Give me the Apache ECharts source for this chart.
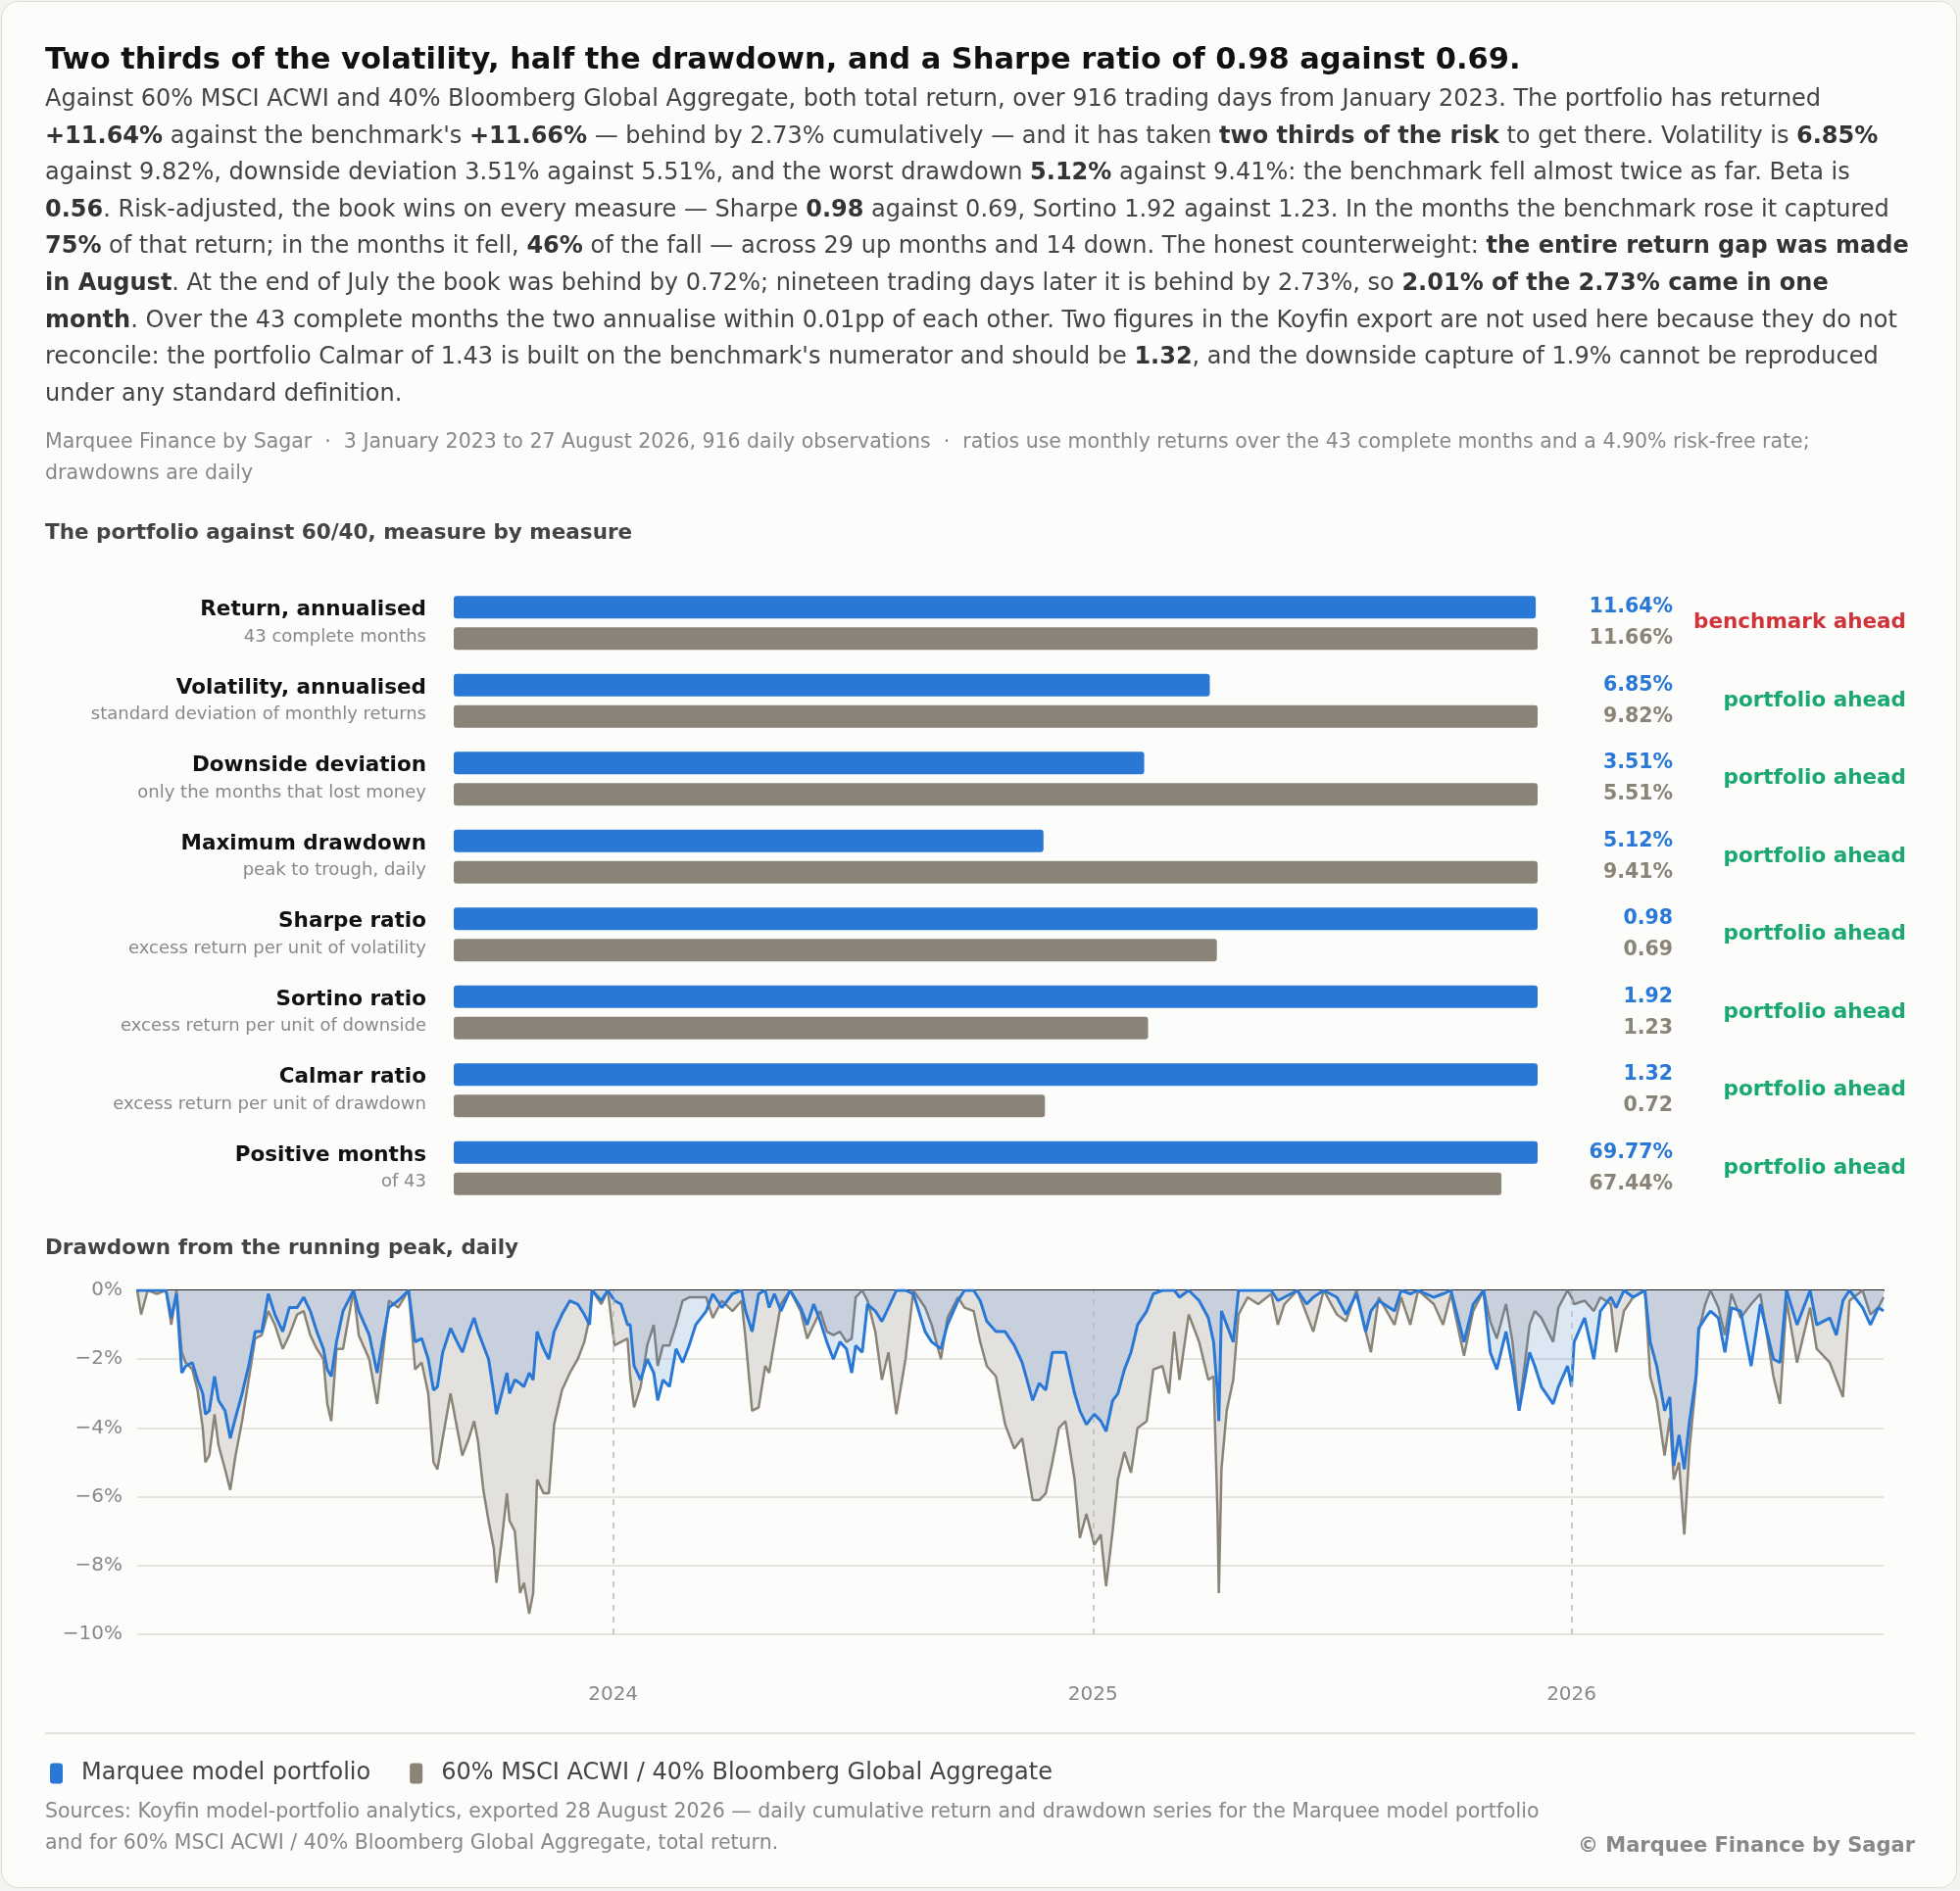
<!DOCTYPE html>
<html lang="en">
<head>
<meta charset="UTF-8">
<title>Portfolio against 60/40</title>
<style>
  html, body { margin: 0; padding: 0; background: #f3f3f1; }
  body { width: 2000px; height: 1930px; position: relative; font-family: "DejaVu Sans", sans-serif; }
  .card { position: absolute; left: 1px; top: 1px; width: 1996px; height: 1926px; background: #fcfcfa;
          border: 1.5px solid #dcdcd8; border-radius: 18px; box-sizing: border-box; }
  #chart { position: absolute; left: 0; top: 0; width: 2000px; height: 1930px; }
  .txt { position: absolute; left: 46px; }
  h1 { margin: 0; font-size: 30.5px; color: #111; font-weight: bold; top: 42px; white-space: nowrap; }
  .lede { top: 82px; width: 1912px; font-size: 24px; line-height: 37.6px; color: #444; }
  .lede b { color: #333; }
  .meta { top: 434px; width: 1900px; font-size: 20.5px; line-height: 32px; color: #888; }
  .sect { font-size: 21.5px; font-weight: bold; color: #444; }
  .rule { position: absolute; left: 46px; width: 1908px; top: 1768px; height: 2px; background: #e2e1dc; }
  .src { top: 1832px; width: 1560px; font-size: 20.5px; line-height: 32px; color: #888; }
  .copy { position: absolute; right: 46px; top: 1871px; font-size: 21px; font-weight: bold; color: #888; }
</style>
</head>
<body>
<div class="card"></div>
<div id="chart"></div>
<h1 class="txt">Two thirds of the volatility, half the drawdown, and a Sharpe ratio of 0.98 against 0.69.</h1>
<div class="txt lede">Against 60% MSCI ACWI and 40% Bloomberg Global Aggregate, both total return, over 916 trading days from January 2023. The portfolio has returned <b>+11.64%</b> against the benchmark's <b>+11.66%</b> — behind by 2.73% cumulatively — and it has taken <b>two thirds of the risk</b> to get there. Volatility is <b>6.85%</b> against 9.82%, downside deviation 3.51% against 5.51%, and the worst drawdown <b>5.12%</b> against 9.41%: the benchmark fell almost twice as far. Beta is <b>0.56</b>. Risk-adjusted, the book wins on every measure — Sharpe <b>0.98</b> against 0.69, Sortino 1.92 against 1.23. In the months the benchmark rose it captured <b>75%</b> of that return; in the months it fell, <b>46%</b> of the fall — across 29 up months and 14 down. The honest counterweight: <b>the entire return gap was made in August</b>. At the end of July the book was behind by 0.72%; nineteen trading days later it is behind by 2.73%, so <b>2.01% of the 2.73% came in one month</b>. Over the 43 complete months the two annualise within 0.01pp of each other. Two figures in the Koyfin export are not used here because they do not reconcile: the portfolio Calmar of 1.43 is built on the benchmark's numerator and should be <b>1.32</b>, and the downside capture of 1.9% cannot be reproduced under any standard definition.</div>
<div class="txt meta">Marquee Finance by Sagar &nbsp;·&nbsp; 3 January 2023 to 27 August 2026, 916 daily observations &nbsp;·&nbsp; ratios use monthly returns over the 43 complete months and a 4.90% risk-free rate; drawdowns are daily</div>
<div class="txt sect" style="top:530px">The portfolio against 60/40, measure by measure</div>
<div class="txt sect" style="top:1260px">Drawdown from the running peak, daily</div>
<div class="rule"></div>
<div class="txt src">Sources: Koyfin model-portfolio analytics, exported 28 August 2026 — daily cumulative return and drawdown series for the Marquee model portfolio and for 60% MSCI ACWI / 40% Bloomberg Global Aggregate, total return.</div>
<div class="copy">© Marquee Finance by Sagar</div>

<script src="https://cdn.jsdelivr.net/npm/echarts@6.0.0/dist/echarts.min.js"></script>
<script>
// measures
var measures = ['Return, annualised', 'Volatility, annualised', 'Downside deviation', 'Maximum drawdown',
                'Sharpe ratio', 'Sortino ratio', 'Calmar ratio', 'Positive months']
var measureNotes = ['43 complete months', 'standard deviation of monthly returns', 'only the months that lost money',
                    'peak to trough, daily', 'excess return per unit of volatility', 'excess return per unit of downside',
                    'excess return per unit of drawdown', 'of 43']
var portfolioVals = [11.64, 6.85, 3.51, 5.12, 0.98, 1.92, 1.32, 69.77]
var benchmarkVals = [11.66, 9.82, 5.51, 9.41, 0.69, 1.23, 0.72, 67.44]
var isPercent = [true, true, true, true, false, false, false, true]
var verdicts = ['benchmark ahead', 'portfolio ahead', 'portfolio ahead', 'portfolio ahead',
                'portfolio ahead', 'portfolio ahead', 'portfolio ahead', 'portfolio ahead']

// drawdown: calendar days after 3 Jan 2023, % below running peak
var ddDays = [0,2.5,7.5,15,22,26,30,34,37,42,46,50,52,55,59,62,67,71,75,80,85,90,95,100,105,111,116,122,127,132,137,142,145,148,152,157,165,169,177,183,187,192,199,207,212,217,222,226,229,233,239,244,248,253,257,260,264,268,272,274,278,282,284,288,292,295,299,302,305,310,314,318,324,330,336,341,345,347,354,359,364,369,374,376,379,384,389,394,397,401,406,411,416,421,426,434,439,446,454,461,464,469,474,479,482,486,491,498,506,511,516,521,526,531,536,541,545,548,553,557,563,568,573,579,586,592,601,606,613,618,626,631,638,643,648,655,662,669,675,683,688,693,698,703,708,715,719,724,730,735,739,744,748,753,758,763,770,775,782,787,791,795,802,810,817,821,824,825,827,831,836,840,847,855,865,870,875,885,892,897,905,915,922,930,937,941,947,959,964,971,977,989,996,1002,1012,1019,1027,1032,1037,1044,1049,1054,1062,1066,1071,1080,1084,1091,1094,1096,1104,1111,1116,1124,1128,1134,1141,1150,1154,1159,1165,1169,1172,1176,1180,1184,1189,1191,1196,1200,1206,1211,1216,1223,1231,1238,1248,1253,1258,1266,1276,1281,1291,1296,1301,1306,1316,1322,1328,1332]
var ddPortfolio = [0,0,0,0,0,-0.8,-0.1,-2.4,-2.2,-2.1,-2.6,-3.0,-3.6,-3.5,-2.5,-3.2,-3.5,-4.3,-3.7,-3.0,-2.2,-1.2,-1.2,-0.1,-0.7,-1.2,-0.5,-0.5,-0.2,-0.6,-1.2,-1.7,-2.3,-2.5,-1.5,-0.6,0,-0.6,-1.3,-2.4,-1.5,-0.5,-0.3,0,-1.5,-1.4,-2.0,-2.9,-2.8,-1.8,-1.1,-1.5,-1.8,-1.2,-0.8,-1.2,-1.6,-2.0,-3.0,-3.6,-3.0,-2.4,-3.0,-2.6,-2.7,-2.8,-2.4,-2.6,-1.2,-1.7,-2.0,-1.2,-0.7,-0.3,-0.4,-0.7,-1.0,0,-0.3,0,-0.3,-0.4,-1.0,-1.0,-2.2,-2.6,-2.0,-2.4,-3.2,-2.6,-2.8,-1.7,-2.1,-1.6,-1.0,-0.6,-0.1,-0.5,-0.1,0,-0.6,-1.2,-0.1,0,-0.5,-0.1,-0.6,0,-0.5,-1.0,-0.4,-0.9,-1.5,-2.0,-1.5,-1.7,-2.4,-1.6,-1.8,-0.4,-0.6,-0.9,-0.5,0,0,-0.1,-1.2,-1.5,-1.7,-1.0,-0.3,0,0,-0.3,-0.9,-1.2,-1.2,-1.6,-2.1,-3.2,-2.7,-2.9,-1.8,-1.8,-1.8,-3.0,-3.5,-3.9,-3.6,-3.8,-4.1,-3.2,-3.0,-2.3,-1.8,-1.0,-0.6,-0.1,0,0,0,-0.2,0,-0.3,-0.8,-1.5,-3.0,-3.8,-0.6,-1.0,-1.5,0,0,0,0,-0.3,-0.2,0,-0.4,-0.2,0,-0.2,-0.7,-0.1,-1.2,-0.6,-0.3,-0.6,0,-0.1,0,-0.2,-0.1,0,-1.5,-0.4,0,-1.8,-2.3,-1.2,-2.2,-3.5,-1.8,-2.2,-2.8,-3.3,-2.8,-2.2,-2.8,-1.5,-0.8,-2.0,-0.6,-0.2,-0.5,0,-0.2,0,-1.5,-2.2,-3.5,-3.1,-5.1,-4.2,-5.2,-3.8,-2.5,-1.1,-0.8,-0.6,-0.8,-1.8,-0.5,-0.6,-2.2,-0.4,-2.0,-2.1,0,-1.0,0,-1.0,-0.8,-1.3,-0.3,0,-0.5,-1.0,-0.5,-0.6]
var ddBenchmark = [0,-0.7,0,-0.1,0,-1.0,0,-1.8,-2.1,-2.3,-2.9,-4.0,-5.0,-4.8,-3.6,-4.5,-5.2,-5.8,-4.8,-3.8,-2.6,-1.4,-1.3,-0.6,-1.0,-1.7,-1.3,-0.7,-0.6,-1.3,-1.7,-2.0,-3.3,-3.8,-1.7,-1.7,0,-1.3,-2.0,-3.3,-2.0,-0.3,-0.5,0,-2.3,-2.1,-3.0,-5.0,-5.2,-4.3,-3.0,-4.0,-4.8,-4.3,-3.8,-4.4,-5.8,-6.7,-7.5,-8.5,-7.3,-5.9,-6.7,-7.0,-8.8,-8.5,-9.4,-8.8,-5.5,-5.9,-5.9,-3.9,-2.9,-2.4,-2.0,-1.5,-0.8,0,-0.4,0,-1.6,-1.5,-1.4,-2.5,-3.4,-2.8,-1.6,-1.0,-2.2,-1.6,-1.6,-1.0,-0.3,-0.2,-0.2,-0.2,-0.8,-0.3,-0.6,-0.3,-1.4,-3.5,-3.4,-2.2,-2.4,-1.5,-0.4,0,-0.6,-1.4,-1.0,-0.6,-1.2,-1.3,-1.2,-1.5,-1.4,-0.2,0,-0.3,-1.2,-2.6,-1.8,-3.6,-2.0,0,-0.5,-1.0,-2.0,-0.8,-0.2,-0.5,-0.6,-1.5,-2.2,-2.5,-3.9,-4.6,-4.3,-6.1,-6.1,-5.9,-5.0,-4.0,-3.8,-5.5,-7.2,-6.5,-7.4,-7.1,-8.6,-7.0,-5.5,-4.7,-5.3,-4.0,-3.8,-2.3,-2.2,-3.0,-1.2,-2.6,-0.7,-1.5,-2.6,-2.5,-6.5,-8.8,-5.2,-3.5,-2.6,-0.7,-0.2,-0.4,-0.1,-1.0,-0.4,0,-0.7,-1.2,0,-0.7,-0.9,0,-1.2,-1.8,-0.2,-1.0,-0.2,-1.0,0,-0.4,-1.0,-0.1,-1.9,-0.6,0,-0.9,-1.4,-0.4,-1.5,-3.5,-1.0,-0.6,-0.8,-1.5,-0.5,0,-0.2,-0.4,-0.3,-0.6,-0.2,-0.4,-1.8,-0.6,-0.2,0,-2.5,-3.2,-4.8,-3.7,-5.5,-5.0,-7.1,-4.6,-2.6,-1.2,-0.4,0,-0.5,-1.3,-0.1,-0.8,-0.4,-0.1,-2.5,-3.3,-0.3,-2.1,-0.5,-1.7,-2.1,-2.6,-3.1,-0.3,0,-0.7,-0.5,-0.2]
var yearTicks = ['2024-01-01', '2025-01-01', '2026-01-01']

var BLUE = '#2a78d6', GREY = '#8a8478'
var start = Date.UTC(2023, 0, 3)
var toTime = function (d) { return start + Math.round(d) * 86400000 }
var pfLine = ddDays.map(function (d, i) { return [toTime(d), ddPortfolio[i]] })
var bmLine = ddDays.map(function (d, i) { return [toTime(d), ddBenchmark[i]] })

// each measure scaled so the larger of the pair fills the row
var pfShare = portfolioVals.map(function (v, i) { return v / Math.max(v, benchmarkVals[i]) })
var bmShare = benchmarkVals.map(function (v, i) { return v / Math.max(v, portfolioVals[i]) })
var fmt = function (v, i) { return isPercent[i] ? v.toFixed(2) + '%' : v.toFixed(2) }

var chart = echarts.init(document.getElementById('chart'))
var option = {
  animation: false,
  textStyle: { fontFamily: 'DejaVu Sans' },
  grid: [
    { left: 463, right: 431, top: 596, height: 636 },
    { left: 140, right: 78, top: 1317, height: 351 }
  ],
  legend: {
    left: 46, top: 1793, itemWidth: 13, itemHeight: 21, icon: 'roundRect', itemGap: 40,
    textStyle: { fontSize: 24, color: '#444', padding: [0, 0, 0, 14] },
    data: ['Marquee model portfolio', '60% MSCI ACWI / 40% Bloomberg Global Aggregate']
  },
  xAxis: [
    { gridIndex: 0, type: 'value', min: 0, max: 1, show: false },
    { gridIndex: 1, type: 'time', position: 'top', min: start, max: toTime(1332),
      axisLine: { show: true, lineStyle: { color: '#222', width: 2 } },
      axisTick: { show: false }, axisLabel: { show: false }, splitLine: { show: false } },
    { gridIndex: 1, type: 'time', position: 'bottom', min: start, max: toTime(1332), splitNumber: 3,
      axisLine: { show: false }, axisTick: { show: false },
      axisLabel: { fontSize: 20, color: '#888', margin: 52,
        formatter: function (v) { var d = new Date(v); return (d.getUTCMonth() === 0 && d.getUTCDate() === 1) ? String(d.getUTCFullYear()) : '' } },
      splitLine: { show: false } }
  ],
  yAxis: [
    { gridIndex: 0, type: 'category', inverse: true, data: measures,
      axisLine: { show: false }, axisTick: { show: false },
      axisLabel: { margin: 28, align: 'right',
        formatter: function (v, i) { return '{n|' + v + '}\n{s|' + measureNotes[i] + '}' },
        rich: { n: { fontSize: 21.5, fontWeight: 'bold', color: '#111', lineHeight: 29, align: 'right' },
                s: { fontSize: 18, color: '#888', lineHeight: 26, align: 'right' } } } },
    { gridIndex: 0, type: 'category', inverse: true, position: 'right', data: measures,
      axisLine: { show: false }, axisTick: { show: false },
      axisLabel: { margin: 138, align: 'right',
        formatter: function (v, i) { return '{p|' + fmt(portfolioVals[i], i) + '}\n{b|' + fmt(benchmarkVals[i], i) + '}' },
        rich: { p: { fontSize: 20.5, fontWeight: 'bold', color: BLUE, lineHeight: 32, align: 'right' },
                b: { fontSize: 20.5, fontWeight: 'bold', color: GREY, lineHeight: 32, align: 'right' } } } },
    { gridIndex: 0, type: 'category', inverse: true, position: 'right', data: measures,
      axisLine: { show: false }, axisTick: { show: false },
      axisLabel: { margin: 376, align: 'right', fontSize: 21.5, fontWeight: 'bold',
        formatter: function (v, i) { return verdicts[i] },
        color: function (v, i) { return verdicts[i].indexOf('benchmark') === 0 ? '#d0333a' : '#1aa871' } } },
    { gridIndex: 1, type: 'value', min: -10, max: 0, interval: 2,
      axisLine: { show: false }, axisTick: { show: false },
      axisLabel: { fontSize: 20, color: '#888', margin: 15,
        formatter: function (v) { return v === 0 ? '0%' : '\u2212' + Math.abs(v) + '%' } },
      splitLine: { lineStyle: { color: '#dddcd4', width: 1.5 } } }
  ],
  series: [
    { name: 'Marquee model portfolio', type: 'bar', xAxisIndex: 0, yAxisIndex: 0, data: pfShare,
      barWidth: 23, barGap: '40%', itemStyle: { color: BLUE, borderRadius: 3 } },
    { name: '60% MSCI ACWI / 40% Bloomberg Global Aggregate', type: 'bar', xAxisIndex: 0, yAxisIndex: 0, data: bmShare,
      barWidth: 23, barGap: '40%', itemStyle: { color: GREY, borderRadius: 3 } },
    { name: '60% MSCI ACWI / 40% Bloomberg Global Aggregate', type: 'line', xAxisIndex: 1, yAxisIndex: 3, data: bmLine,
      symbol: 'none', lineStyle: { color: GREY, width: 2.5 }, itemStyle: { color: GREY },
      areaStyle: { color: '#e3e1dd', opacity: 1, origin: 'end' }, z: 2,
      markLine: { symbol: 'none', silent: true, label: { show: false },
        lineStyle: { color: '#bbb', type: [6, 6], width: 1.5 },
        data: yearTicks.map(function (t) { return { xAxis: new Date(t + 'T00:00:00Z').getTime() } }) } },
    { name: 'Marquee model portfolio', type: 'line', xAxisIndex: 1, yAxisIndex: 3, data: pfLine,
      symbol: 'none', lineStyle: { color: BLUE, width: 3 }, itemStyle: { color: BLUE },
      areaStyle: { color: 'rgba(46,120,215,0.22)', origin: 'end' }, z: 3 }
  ]
}
chart.setOption(option)
</script>
</body>
</html>
